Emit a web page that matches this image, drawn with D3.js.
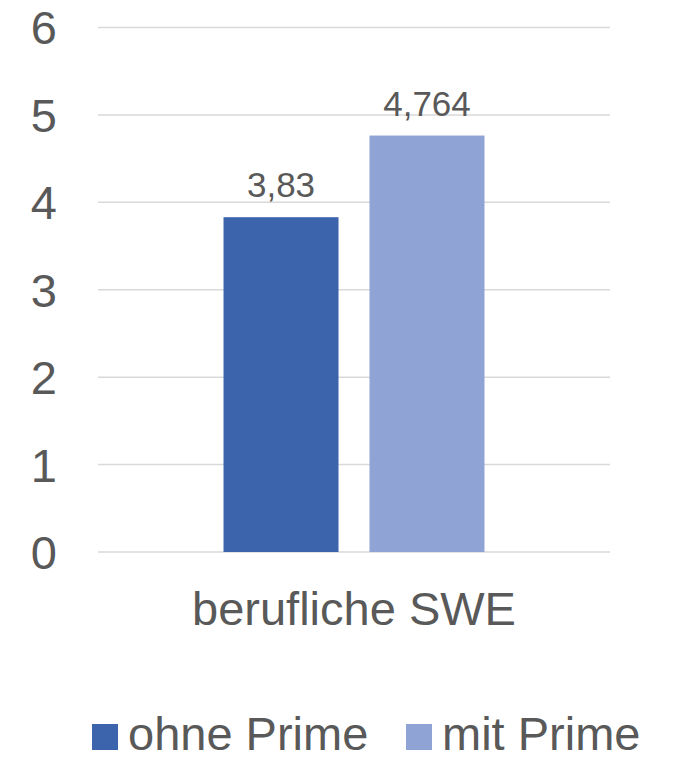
<!DOCTYPE html>
<html>
<head>
<meta charset="utf-8">
<script src="https://cdn.jsdelivr.net/npm/d3@7"></script>
<style>
  body { margin: 0; background: #fff; }
  text { font-family: "Liberation Sans", Arial, sans-serif; fill: #595959; }
</style>
</head>
<body>
<div id="chart"></div>
<script>
(function(){

  var categories = ['berufliche SWE'];
  var seriesNames = ['ohne Prime', 'mit Prime'];
  var seriesColors = ['#3B64AD', '#8FA3D4'];
  var ohnePrime = [3.83];
  var mitPrime = [4.764];
  var labelsOhne = ['3,83'];
  var labelsMit = ['4,764'];
  var yTicks = [0, 1, 2, 3, 4, 5, 6];

  var series = [
    {name: seriesNames[0], values: ohnePrime, labels: labelsOhne, color: seriesColors[0]},
    {name: seriesNames[1], values: mitPrime, labels: labelsMit, color: seriesColors[1]}
  ];

  var width = 674, height = 760;
  var left = 98, right = 610, top = 27.5, bottom = 552;

  var svg = d3.select('#chart')
    .append('svg')
    .attr('width', width)
    .attr('height', height);

  var y = d3.scaleLinear().domain([0, 6]).range([bottom, top]);

  var x0 = d3.scaleBand()
    .domain(categories)
    .range([left, right])
    .paddingInner(0)
    .paddingOuter(0.481);

  var x1 = d3.scaleBand()
    .domain(seriesNames)
    .range([0, x0.bandwidth()])
    .paddingInner(0.2123)
    .paddingOuter(0);

  // gridlines
  svg.append('g')
    .selectAll('line')
    .data(yTicks)
    .enter()
    .append('line')
    .attr('x1', left)
    .attr('x2', right)
    .attr('y1', function(d) {return y(d);})
    .attr('y2', function(d) {return y(d);})
    .attr('stroke', '#d9d9d9')
    .attr('stroke-width', 1.5);

  // y tick labels
  svg.append('g')
    .selectAll('text')
    .data(yTicks)
    .enter()
    .append('text')
    .attr('x', 57)
    .attr('y', function(d) {return y(d);})
    .attr('dy', '0.36em')
    .attr('text-anchor', 'end')
    .style('font-size', '47px')
    .text(function(d) {return d;});

  // bars
  var groups = svg.append('g')
    .selectAll('g')
    .data(series)
    .enter()
    .append('g');

  groups.selectAll('rect')
    .data(function(s) {return s.values.map(function(v, i) {return {s: s, v: v, c: categories[i], l: s.labels[i]};});})
    .enter()
    .append('rect')
    .attr('x', function(d) {return x0(d.c) + x1(d.s.name);})
    .attr('width', x1.bandwidth())
    .attr('y', function(d) {return y(d.v);})
    .attr('height', function(d) {return y(0) - y(d.v);})
    .attr('fill', function(d) {return d.s.color;});

  groups.selectAll('text')
    .data(function(s) {return s.values.map(function(v, i) {return {s: s, v: v, c: categories[i], l: s.labels[i]};});})
    .enter()
    .append('text')
    .attr('x', function(d) {return x0(d.c) + x1(d.s.name) + x1.bandwidth() / 2;})
    .attr('y', function(d) {return y(d.v) - 20;})
    .attr('text-anchor', 'middle')
    .style('font-size', '35px')
    .text(function(d) {return d.l;});

  // category label
  svg.append('g')
    .selectAll('text')
    .data(categories)
    .enter()
    .append('text')
    .attr('x', function(d) {return x0(d) + x0.bandwidth() / 2;})
    .attr('y', 625)
    .attr('text-anchor', 'middle')
    .style('font-size', '47px')
    .text(function(d) {return d;});

  // legend
  var legendX = [92, 406];
  var legend = svg.append('g')
    .selectAll('g')
    .data(series)
    .enter()
    .append('g')
    .attr('transform', function(d, i) {return 'translate(' + legendX[i] + ',0)';});

  legend.append('rect')
    .attr('x', 0)
    .attr('y', 724)
    .attr('width', 26)
    .attr('height', 26)
    .attr('fill', function(d) {return d.color;});

  legend.append('text')
    .attr('x', 36)
    .attr('y', 750)
    .style('font-size', '47px')
    .text(function(d) {return d.name;});

})();
</script>
</body>
</html>
